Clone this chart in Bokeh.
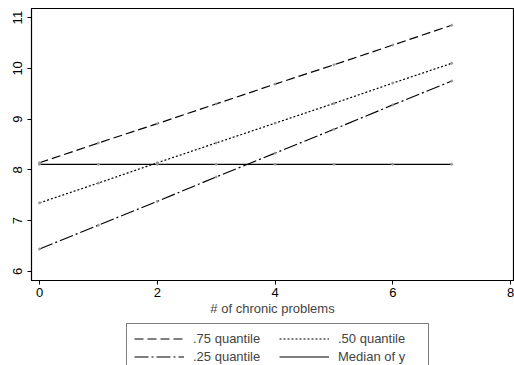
from bokeh.plotting import figure
from bokeh.models import Legend, LegendItem, Range1d, FixedTicker
from bokeh.layouts import column
from bokeh.embed import file_html
from bokeh.resources import INLINE

x = [0, 1, 2, 3, 4, 5, 6, 7]
q75 = [8.14, 8.53, 8.91, 9.30, 9.69, 10.07, 10.46, 10.85]
q50 = [7.35, 7.74, 8.14, 8.53, 8.92, 9.31, 9.71, 10.10]
q25 = [6.44, 6.91, 7.38, 7.86, 8.33, 8.80, 9.28, 9.75]
med = [8.11, 8.11, 8.11, 8.11, 8.11, 8.11, 8.11, 8.11]
labels = [".75 quantile", ".50 quantile", ".25 quantile", "Median of y"]
x_ticks = [0, 2, 4, 6, 8]
y_ticks = [6, 7, 8, 9, 10, 11]

FONT = "Liberation Sans"

p = figure(width=514, height=318, output_backend="svg", toolbar_location=None,
           x_range=Range1d(-0.136, 8.05), y_range=Range1d(5.82, 11.18),
           min_border_left=31, min_border_right=1, min_border_top=8, min_border_bottom=37)
p.grid.visible = False
p.outline_line_color = "black"
p.outline_line_width = 1.2
p.background_fill_color = "white"
p.border_fill_color = "white"

for ax in (p.xaxis[0], p.yaxis[0]):
    ax.major_label_text_font = FONT
    ax.major_label_text_color = "black"
    ax.axis_line_color = "black"
    ax.major_tick_line_color = "black"
    ax.major_tick_out = 4
    ax.major_tick_in = 0
    ax.minor_tick_line_color = None
    ax.axis_label_text_font = FONT
    ax.axis_label_text_font_style = "normal"

p.xaxis.ticker = FixedTicker(ticks=x_ticks)
p.yaxis.ticker = FixedTicker(ticks=y_ticks)
p.xaxis.major_label_text_font_size = "13px"
p.yaxis.major_label_text_font_size = "13px"
p.yaxis.major_label_orientation = "vertical"
p.xaxis.axis_label = "# of chronic problems"
p.xaxis.axis_label_text_font_size = "13px"
p.xaxis.axis_label_standoff = 1
p.xaxis.major_label_standoff = 3

dashes = ["9 4", "2 2", "14 3 2 3", "solid"]
series = [q75, q50, q25, med]
for ys, d in zip(series, dashes):
    p.line(x, ys, line_color="black", line_width=1.2, line_dash=d)
    p.scatter(x, ys, size=2, color="#999999")

# legend panel below the chart
lg = figure(width=514, height=47, output_backend="svg", toolbar_location=None,
            x_range=Range1d(0, 1), y_range=Range1d(0, 1),
            x_axis_location=None, y_axis_location=None,
            min_border_left=31, min_border_right=1,
            min_border_top=0, min_border_bottom=0)
lg.grid.visible = False
lg.outline_line_color = None
lg.border_fill_color = "white"
lg.background_fill_color = "white"
lg_renderers = {}
for lab, d in zip(labels, dashes):
    # proxy lines lying outside the visible range, used only for legend glyphs
    lg_renderers[lab] = lg.line([5, 6], [5, 6], line_color="black", line_width=1.2, line_dash=d)

order = [labels[0], labels[2], labels[1], labels[3]]  # column-first filling
items = [LegendItem(label=l, renderers=[lg_renderers[l]]) for l in order]
legend = Legend(items=items, location=(95, -7), ncols=2,
                label_text_font=FONT, label_text_font_size="13px",
                glyph_width=50, glyph_height=15, label_standoff=9,
                label_width=83, label_height=15,
                spacing=3, padding=7, margin=0,
                border_line_color="black", border_line_width=1.2,
                background_fill_alpha=1)
lg.add_layout(legend, "center")

layout = column(p, lg, spacing=0)
open("out.html", "w").write(file_html(layout, INLINE))
